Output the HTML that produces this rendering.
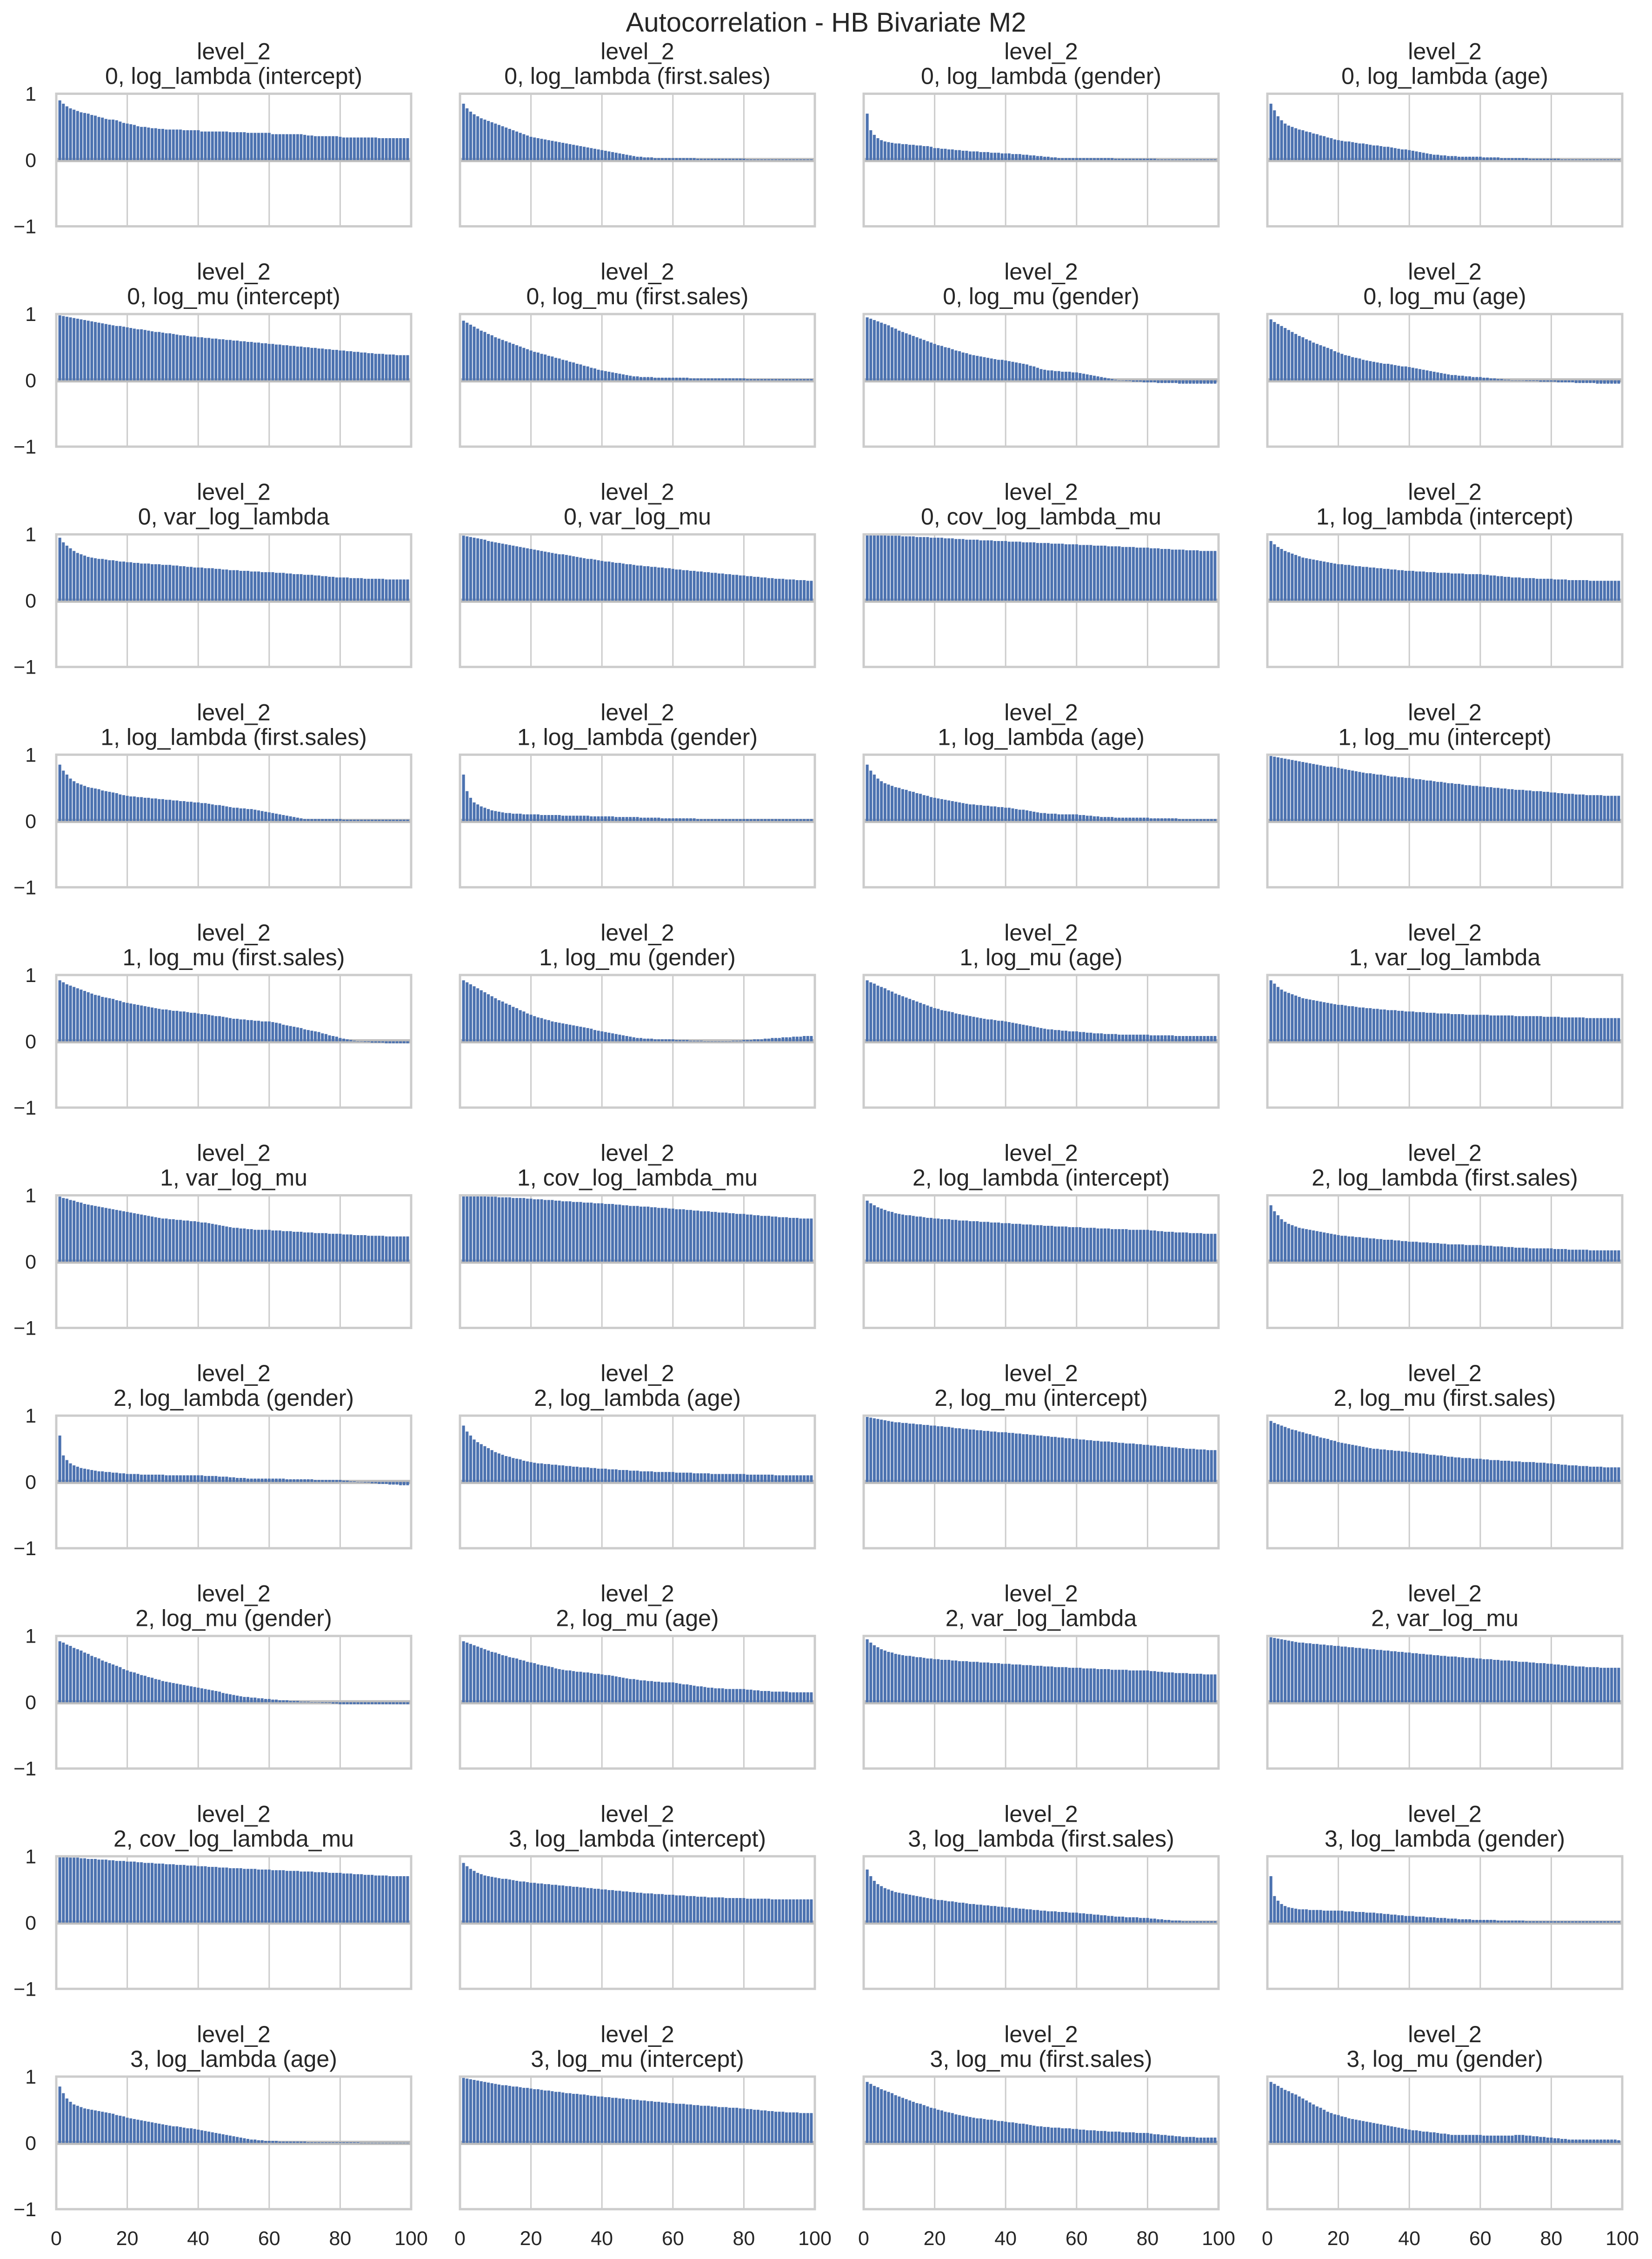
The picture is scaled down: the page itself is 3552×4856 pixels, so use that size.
<!DOCTYPE html>
<html><head><meta charset="utf-8"><title>Autocorrelation - HB Bivariate M2</title>
<style>html,body{margin:0;padding:0;background:#fff}svg{display:block}text{font-family:"Liberation Sans",Arial,sans-serif;fill:#262626}</style>
</head><body>
<svg id="fig" width="3552" height="4856" viewBox="0 0 3552 4856" xmlns="http://www.w3.org/2000/svg">
<rect width="3552" height="4856" fill="#fff"/>
<text x="1776" y="68" font-size="58" text-anchor="middle">Autocorrelation - HB Bivariate M2</text>
</svg>
<script>
const titles = ["0, log_lambda (intercept)","0, log_lambda (first.sales)","0, log_lambda (gender)","0, log_lambda (age)","0, log_mu (intercept)","0, log_mu (first.sales)","0, log_mu (gender)","0, log_mu (age)","0, var_log_lambda","0, var_log_mu","0, cov_log_lambda_mu","1, log_lambda (intercept)","1, log_lambda (first.sales)","1, log_lambda (gender)","1, log_lambda (age)","1, log_mu (intercept)","1, log_mu (first.sales)","1, log_mu (gender)","1, log_mu (age)","1, var_log_lambda","1, var_log_mu","1, cov_log_lambda_mu","2, log_lambda (intercept)","2, log_lambda (first.sales)","2, log_lambda (gender)","2, log_lambda (age)","2, log_mu (intercept)","2, log_mu (first.sales)","2, log_mu (gender)","2, log_mu (age)","2, var_log_lambda","2, var_log_mu","2, cov_log_lambda_mu","3, log_lambda (intercept)","3, log_lambda (first.sales)","3, log_lambda (gender)","3, log_lambda (age)","3, log_mu (intercept)","3, log_mu (first.sales)","3, log_mu (gender)"];
const xTicks = [0,20,40,60,80,100];
const yTicks = [1,0,-1];
const yTickLabels = ["1","0","\u22121"];
// autocorrelation (percent) for lags 1..99
const s01=[90,85,81,78,76,74,72,71,70,68,67,65,64,62,61,61,60,58,56,55,54,53,51,50,50,49,48,48,47,47,46,46,46,46,46,45,45,45,45,45,43,43,43,43,43,43,43,43,42,42,42,42,42,41,41,41,41,41,41,41,39,39,39,39,39,39,39,39,39,38,37,37,36,36,36,36,36,36,36,35,34,34,34,34,34,34,34,34,34,34,33,33,33,33,33,33,33,33,33];
const s02=[85,78,73,69,66,63,61,59,57,55,53,51,49,47,45,43,41,39,37,35,34,33,32,31,30,29,28,27,26,25,24,23,22,21,20,19,18,17,16,15,14,13,12,11,10,9,8,7,6,5,5,4,4,4,3,3,3,3,3,3,3,3,3,3,3,3,2,2,2,2,2,2,2,2,2,2,2,2,2,2,1,1,1,1,1,1,1,1,1,1,1,1,1,1,1,1,1,1,1];
const s03=[70,45,38,33,30,28,27,26,25,25,24,24,23,23,22,22,21,21,20,18,18,17,17,16,16,15,15,14,14,13,13,13,12,12,12,11,11,11,10,10,10,9,9,9,8,8,7,7,6,6,5,5,4,4,3,3,3,3,3,3,3,3,3,3,3,3,3,3,3,3,2,2,2,2,2,2,2,2,2,2,2,2,1,1,1,1,1,1,1,1,1,1,1,1,1,1,1,1,1];
const s04=[85,75,66,60,55,52,50,48,46,45,43,42,40,39,37,36,34,33,31,30,29,28,28,27,26,25,25,24,23,22,22,21,20,20,19,18,17,16,16,15,14,13,12,11,10,9,8,8,7,7,6,6,6,5,5,5,5,5,5,5,4,4,4,4,4,3,3,3,3,3,3,3,3,2,2,2,2,2,2,2,2,2,1,1,1,1,1,1,1,1,1,1,1,1,1,1,1,1,1];
const s05=[98,97,96,95,94,93,92,91,90,89,88,87,86,85,84,83,82,82,81,80,79,78,77,77,76,75,74,73,73,72,71,71,70,69,68,68,67,66,66,65,65,64,64,63,63,62,62,61,61,60,60,59,59,58,58,57,57,56,56,55,55,54,54,53,53,52,52,51,51,50,50,49,49,48,48,47,47,46,46,45,45,44,44,43,43,42,42,41,41,40,40,40,39,39,39,38,38,38,38];
const s06=[90,87,84,81,78,75,73,70,68,65,63,61,59,57,55,53,51,49,47,45,43,42,40,39,37,36,34,33,31,30,28,27,25,24,22,21,19,18,16,15,14,13,12,11,10,9,8,7,6,6,5,5,5,5,4,4,4,4,4,4,4,4,4,4,3,3,3,3,3,3,3,3,3,3,3,3,3,3,3,3,2,2,2,2,2,2,2,2,2,2,2,2,2,2,2,2,2,2,2];
const s07=[95,93,91,89,87,85,83,80,78,75,73,71,69,67,65,63,61,59,57,55,53,52,50,49,47,45,44,42,41,39,38,37,36,35,34,33,32,31,31,30,29,28,27,26,25,24,22,21,19,17,16,15,15,14,14,13,13,13,12,12,11,10,9,8,7,6,5,4,3,2,1,0,0,-1,-1,-2,-2,-2,-3,-3,-3,-3,-4,-4,-4,-4,-4,-4,-5,-5,-5,-5,-5,-5,-5,-5,-5,-5,-5];
const s08=[92,88,85,82,79,76,73,70,67,65,62,60,57,55,53,51,49,47,44,42,40,38,37,35,34,33,31,30,29,28,27,26,25,25,24,23,22,21,21,20,19,18,17,16,15,14,13,12,11,10,9,8,8,7,7,6,6,5,5,5,4,4,3,3,2,2,1,1,0,0,0,0,-1,-1,-1,-1,-2,-2,-2,-2,-2,-3,-3,-3,-3,-3,-4,-4,-4,-4,-4,-4,-5,-5,-5,-5,-5,-5,-5];
const s09=[95,88,83,79,75,72,70,68,66,65,64,63,63,62,61,61,60,59,59,58,58,57,57,56,56,56,55,55,55,54,54,54,53,53,52,52,51,51,50,50,50,49,49,49,48,48,47,47,46,46,46,45,45,45,44,44,44,43,43,43,43,42,42,42,41,41,40,40,40,39,39,39,38,38,37,37,36,36,35,35,35,35,34,34,34,34,33,33,33,33,33,33,32,32,32,32,32,32,32];
const s10=[98,97,96,95,94,93,92,90,89,88,87,86,85,84,83,82,81,80,79,78,77,76,75,74,73,72,71,70,70,69,68,67,66,65,64,63,63,62,61,60,59,59,58,57,57,56,55,55,54,53,53,52,52,51,51,50,50,49,49,48,47,47,46,46,45,45,44,44,43,43,42,42,41,41,40,40,39,39,38,38,37,37,36,36,35,35,34,34,33,33,33,32,32,32,31,31,31,30,30];
const s11=[100,100,99,99,99,99,98,98,98,98,97,97,97,97,96,96,96,96,95,95,95,95,94,94,94,93,93,93,92,92,92,92,91,91,91,91,90,90,90,90,89,89,89,89,88,88,88,88,87,87,87,87,86,86,86,86,85,85,85,85,84,84,84,84,83,83,83,83,82,82,82,82,81,81,81,81,80,80,80,80,79,79,79,78,78,78,77,77,77,77,76,76,76,76,75,75,75,75,75];
const s12=[90,85,81,78,75,73,71,69,67,65,64,63,62,61,60,59,58,57,56,55,55,54,54,53,52,52,51,51,50,50,49,49,48,48,47,47,46,46,45,45,45,44,44,44,43,43,43,42,42,42,42,41,41,41,41,40,40,40,40,40,39,39,38,38,37,37,36,36,35,35,35,34,34,34,34,33,33,33,33,33,32,32,32,32,31,31,31,31,31,31,30,30,30,30,30,30,30,30,30];
const s13=[85,76,70,64,60,57,55,53,51,50,49,48,46,45,44,43,42,40,39,38,37,37,36,36,35,35,34,34,33,33,32,32,31,31,30,30,29,29,28,28,27,27,26,25,24,24,23,22,21,20,20,19,19,18,18,17,16,15,14,13,12,11,10,9,8,7,6,5,4,3,3,3,3,3,3,3,3,3,3,3,2,2,2,2,2,2,2,2,2,2,2,2,2,2,2,2,2,2,2];
const s14=[70,45,35,28,25,22,20,18,16,15,14,13,12,12,11,11,11,10,10,10,10,10,9,9,9,9,9,9,8,8,8,8,8,8,8,8,7,7,7,7,7,7,7,6,6,6,6,6,6,6,5,5,5,5,5,5,4,4,4,4,4,4,4,4,4,4,3,3,3,3,3,3,3,3,3,3,3,3,3,3,3,3,3,3,3,3,3,3,3,3,3,3,3,3,3,3,3,3,3];
const s15=[85,76,70,64,60,57,55,53,51,50,48,47,45,44,42,41,39,38,36,35,34,33,32,31,30,29,28,27,26,25,25,24,24,23,23,22,22,21,21,20,20,19,18,17,17,16,15,14,13,12,12,11,11,11,10,10,10,10,10,10,9,9,8,8,7,7,6,6,6,6,5,5,5,5,5,5,5,5,5,5,4,4,4,4,4,4,4,4,3,3,3,3,3,3,3,3,3,3,3];
const s16=[98,97,96,95,94,93,92,91,90,89,88,87,86,85,84,83,82,82,81,80,79,78,77,76,75,74,73,72,72,71,70,70,69,68,67,67,66,66,65,65,64,63,63,62,61,61,60,59,59,58,57,57,56,56,55,54,54,53,53,52,52,51,51,50,50,49,49,48,48,47,47,47,46,46,45,45,45,44,44,43,43,42,42,41,41,41,40,40,40,39,39,39,39,39,38,38,38,38,38];
const s17=[92,89,86,84,82,80,78,76,74,72,70,69,67,66,65,64,62,61,59,58,57,56,55,54,53,52,51,50,49,48,48,47,46,46,45,45,44,43,43,42,41,41,40,39,38,38,37,36,35,34,34,33,33,32,32,31,31,30,30,30,29,28,27,25,24,23,22,21,20,18,17,16,15,14,12,11,9,8,7,5,4,3,2,1,0,0,-1,-1,-2,-2,-2,-2,-3,-3,-3,-3,-3,-3,-3];
const s18=[92,89,86,83,80,77,74,71,68,65,62,60,57,55,52,50,47,45,42,40,38,36,35,33,32,30,29,28,27,26,25,24,23,22,21,20,19,17,16,15,14,13,12,11,10,9,8,7,6,5,5,4,4,4,3,3,3,3,3,3,2,2,2,2,1,1,1,1,0,0,0,0,0,0,0,0,1,1,1,2,2,2,3,3,3,4,4,5,5,5,6,6,6,7,7,7,8,8,8];
const s19=[92,89,87,84,82,80,77,75,72,70,68,66,64,62,60,58,56,54,52,50,49,47,46,45,44,42,41,40,39,38,37,36,35,34,33,33,32,31,31,30,29,28,27,26,25,24,23,22,21,20,19,18,18,17,17,16,16,15,15,15,14,14,13,13,12,12,12,11,11,11,11,10,10,10,10,10,10,10,10,10,9,9,9,9,9,9,9,8,8,8,8,8,8,8,8,8,8,8,8];
const s20=[92,87,82,78,75,73,71,69,67,65,64,63,62,61,60,59,58,57,56,55,55,54,53,53,52,51,51,50,50,49,49,48,48,47,47,47,46,46,45,45,45,44,44,44,43,43,43,42,42,42,42,41,41,41,41,40,40,40,40,40,40,40,39,39,39,39,39,39,39,38,38,38,38,38,38,38,38,37,37,37,37,37,36,36,36,36,36,36,36,35,35,35,35,35,35,35,35,35,35];
const s21=[98,96,95,93,92,90,89,87,86,85,84,83,82,81,80,79,78,77,76,75,74,73,72,71,70,69,68,67,66,65,65,64,64,63,63,62,62,61,61,60,59,59,58,57,56,55,54,53,52,51,51,50,50,49,49,48,48,48,48,48,47,47,47,46,46,46,45,45,45,44,44,44,43,43,43,43,42,42,42,42,41,41,41,40,40,40,40,39,39,39,39,39,38,38,38,38,38,38,38];
const s22=[100,100,100,99,99,99,99,98,98,98,97,97,97,97,96,96,96,96,95,95,94,94,94,93,93,93,92,92,91,91,91,90,90,90,89,89,89,88,88,88,87,87,87,86,86,85,85,84,84,84,83,83,83,82,82,81,81,81,80,80,79,79,79,78,78,77,77,76,76,76,75,75,74,74,74,73,73,72,72,72,71,71,70,70,69,69,69,68,68,67,67,67,66,66,66,65,65,65,65];
const s23=[92,88,85,82,80,78,76,75,73,72,71,70,70,69,68,68,67,66,66,65,65,64,64,64,63,63,62,62,62,61,61,61,60,60,60,59,59,59,58,58,58,57,57,57,56,56,56,55,55,55,54,54,54,53,53,53,53,52,52,52,52,51,51,51,51,50,50,50,50,49,49,49,49,49,48,48,48,48,48,48,47,47,46,46,45,45,45,44,44,44,44,43,43,43,43,42,42,42,42];
const s24=[85,76,70,64,60,57,55,53,51,50,49,48,47,46,45,44,43,42,41,40,39,39,38,38,37,37,36,36,35,35,34,34,33,33,33,32,32,31,31,30,30,30,29,29,29,28,28,28,27,27,26,26,26,26,26,25,25,25,25,25,24,24,24,23,23,23,22,22,22,21,21,21,21,20,20,20,20,20,20,20,19,19,19,19,18,18,18,18,18,18,17,17,17,17,17,17,17,17,17];
const s25=[70,40,33,28,25,23,21,20,19,18,17,16,16,15,15,14,14,13,13,12,12,12,12,11,11,11,11,11,11,11,10,10,10,10,10,10,10,10,10,10,10,9,9,9,9,8,8,8,7,7,6,6,6,5,5,5,5,5,5,5,5,5,5,5,4,4,4,4,4,4,4,4,3,3,3,3,3,3,3,3,2,2,1,1,0,0,-1,-1,-2,-2,-3,-3,-3,-4,-4,-4,-5,-5,-5];
const s26=[85,76,70,64,60,57,54,51,48,45,43,41,39,38,36,35,34,32,31,30,29,28,28,27,27,26,26,25,25,24,24,23,23,22,22,22,21,21,20,20,20,19,19,19,18,18,18,17,17,17,16,16,16,16,15,15,15,15,15,15,14,14,14,14,14,13,13,13,13,13,12,12,12,12,12,12,12,12,12,12,11,11,11,11,11,11,11,11,10,10,10,10,10,10,10,10,10,10,10];
const s27=[98,97,96,95,94,93,92,91,90,90,89,89,88,88,87,87,86,86,85,85,84,84,83,83,82,81,81,80,80,79,79,78,78,77,77,76,76,75,75,75,74,74,73,73,72,72,71,71,70,70,69,69,68,68,67,67,66,66,65,65,64,64,63,63,62,62,61,61,61,60,60,59,59,58,58,58,57,57,56,56,55,55,54,54,53,53,52,52,51,51,50,50,50,49,49,49,48,48,48];
const s28=[92,89,87,85,83,81,79,78,76,75,73,72,70,69,67,66,65,63,62,60,59,58,57,56,55,54,53,52,51,50,50,49,49,48,48,47,47,46,46,45,44,44,43,43,42,41,41,40,40,39,38,38,37,37,36,36,36,35,35,35,34,34,33,33,33,32,32,32,31,31,31,30,30,30,30,29,29,29,28,28,27,27,26,26,25,25,25,24,24,24,23,23,23,23,22,22,22,22,22];
const s29=[92,90,87,85,82,80,78,75,73,70,68,66,63,61,59,57,55,53,50,48,46,45,43,41,40,38,37,35,34,32,31,30,29,28,27,26,25,24,23,22,21,20,19,18,17,16,14,13,12,11,10,9,8,8,7,7,6,6,5,5,4,4,3,3,3,2,2,2,1,1,1,0,0,0,-1,-1,-1,-2,-2,-3,-3,-3,-3,-3,-3,-3,-3,-3,-3,-3,-3,-3,-3,-3,-3,-3,-3,-3,-3];
const s30=[92,90,88,86,84,82,80,78,76,75,73,71,70,68,67,66,64,63,61,60,59,57,56,55,54,53,51,50,49,48,48,47,46,46,45,45,44,43,43,42,41,41,40,39,38,37,36,35,35,34,33,33,32,32,31,31,30,30,30,30,29,28,27,27,26,25,24,24,23,22,22,21,21,21,20,20,20,20,20,20,19,19,18,18,17,17,17,16,16,16,16,16,15,15,15,15,15,15,15];
const s31=[95,90,86,83,80,78,76,75,73,72,71,70,70,69,68,68,67,66,66,65,65,64,64,64,63,63,62,62,62,61,61,61,60,60,60,59,59,59,58,58,58,57,57,57,56,56,56,55,55,55,54,54,54,53,53,53,53,52,52,52,52,51,51,51,51,50,50,50,50,49,49,49,49,49,48,48,48,48,48,48,47,47,46,46,45,45,45,44,44,44,44,43,43,43,43,42,42,42,42];
const s32=[98,97,96,95,94,93,92,91,90,90,89,89,88,88,87,87,86,86,85,85,84,84,83,83,82,82,81,81,80,80,79,79,78,78,77,77,76,76,75,75,74,74,73,73,72,72,71,71,70,70,69,69,69,68,68,67,67,67,66,66,65,65,65,64,64,63,63,63,62,62,61,61,61,60,60,59,59,59,58,58,57,57,56,56,55,55,54,54,54,53,53,53,53,52,52,52,52,52,52];
const s33=[100,99,99,98,98,98,97,97,96,96,96,95,95,95,94,94,93,93,93,92,92,92,91,91,90,90,90,89,89,89,88,88,88,87,87,87,86,86,86,85,85,85,84,84,84,83,83,83,82,82,82,82,81,81,81,81,80,80,80,80,79,79,79,79,78,78,78,78,77,77,77,77,76,76,76,76,75,75,75,75,74,74,74,73,73,73,72,72,72,71,71,71,71,70,70,70,70,70,70];
const s34=[90,85,81,78,75,73,71,70,69,68,67,66,66,65,64,63,62,62,61,60,60,59,59,58,58,57,57,56,56,55,55,54,54,53,53,52,52,51,51,50,50,49,49,48,48,47,47,46,46,45,45,44,44,44,43,43,43,42,42,42,41,41,41,40,40,40,39,39,39,38,38,38,38,38,37,37,37,37,37,37,36,36,36,36,36,36,36,35,35,35,35,35,35,35,35,35,35,35,35];
const s35=[80,70,63,58,55,52,50,48,46,45,44,43,42,41,40,39,38,37,36,35,34,34,33,32,32,31,30,30,29,28,28,27,27,26,26,25,25,24,24,23,23,22,22,21,21,20,20,19,19,18,18,17,17,17,16,16,16,15,15,15,14,14,13,13,12,12,11,11,10,10,9,9,9,8,8,8,8,7,7,7,6,6,5,5,4,4,3,3,3,2,2,2,2,2,2,2,2,2,2];
const s36=[70,40,33,28,25,23,22,21,20,20,20,19,19,19,19,18,18,18,18,18,18,17,17,17,16,16,16,15,15,15,14,14,13,13,12,12,11,11,10,10,10,9,9,9,8,8,8,7,7,7,6,6,6,5,5,5,5,4,4,4,4,4,4,4,3,3,3,3,3,3,3,3,2,2,2,2,2,2,2,2,2,2,2,2,2,2,2,2,2,2,2,2,2,2,2,2,2,2,2];
const s37=[85,75,67,62,58,56,54,52,51,50,49,48,47,46,45,44,42,41,40,38,37,36,35,34,33,32,31,30,29,28,27,26,25,25,24,23,22,22,21,20,19,18,17,16,15,14,13,12,11,10,9,8,7,6,5,5,4,4,3,3,3,3,2,2,2,2,2,2,2,2,1,1,1,1,1,1,1,1,1,1,1,1,1,1,1,0,0,0,0,0,0,0,0,0,0,0,0,0,0];
const s38=[98,97,96,95,94,93,92,91,90,89,88,87,87,86,85,85,84,83,83,82,81,81,80,79,79,78,77,77,76,75,75,74,74,73,73,72,71,71,70,70,69,69,68,68,67,67,66,66,65,65,64,64,63,63,62,62,61,61,60,60,59,59,59,58,58,57,57,56,56,56,55,55,54,54,54,53,53,53,52,52,51,51,50,50,49,49,48,48,47,47,47,46,46,46,46,45,45,45,45];
const s39=[92,89,86,84,81,79,77,75,72,70,68,66,64,62,60,59,57,55,53,52,50,49,47,46,45,43,42,41,40,39,38,37,37,36,35,35,34,33,33,32,31,31,30,29,29,28,27,26,25,25,24,24,23,23,23,22,22,22,21,21,20,20,19,19,19,18,18,18,17,17,17,17,16,16,16,16,15,15,15,15,14,13,13,12,12,11,11,10,10,9,9,9,9,8,8,8,8,8,8];
const s40=[92,89,86,83,80,78,75,73,70,67,64,61,58,55,53,50,47,45,43,42,40,39,37,36,35,34,33,32,31,30,29,28,27,26,25,24,23,22,21,20,19,19,18,17,17,16,16,15,14,14,13,12,12,12,12,12,12,12,12,12,11,11,11,11,11,11,11,11,11,12,12,12,11,11,10,10,9,9,8,8,7,7,6,6,5,5,5,5,5,5,5,5,5,5,5,5,5,5,4];
const seriesList = [s01,s02,s03,s04,s05,s06,s07,s08,s09,s10,s11,s12,s13,s14,s15,s16,s17,s18,s19,s20,s21,s22,s23,s24,s25,s26,s27,s28,s29,s30,s31,s32,s33,s34,s35,s36,s37,s38,s39,s40];

const NS = "http://www.w3.org/2000/svg";
const svg = document.getElementById('fig');
const colLeft = [121, 989, 1857, 2725], PW = 763, PH = 285, TOP0 = 201.5, ROWSTEP = 473.6;
function mk(tag, attrs, parent){ const e = document.createElementNS(NS, tag); for (const k in attrs) e.setAttribute(k, attrs[k]); parent.appendChild(e); return e; }

seriesList.forEach((vals, i) => {
  const r = Math.floor(i / 4), c = i % 4;
  const L = colLeft[c], T = TOP0 + r * ROWSTEP;
  const xs = v => L + v / 100 * PW;
  const ys = v => T + (1 - v) / 2 * PH;
  const g = mk('g', {}, svg);
  
  
  const clipId = 'clip' + i;
  const cp = mk('clipPath', {id: clipId}, g);
  mk('rect', {x: L, y: T, width: PW, height: PH}, cp);
  // gridlines
  xTicks.forEach(t => {
    if (t === 0 || t === 100) return;
    const gl = mk('line', {x1: xs(t), x2: xs(t), y1: T, y2: T + PH, stroke: '#cccccc', 'stroke-width': 3}, g);
    
    
  });
  const zl = mk('line', {x1: L, x2: L + PW, y1: ys(0), y2: ys(0), stroke: '#bdbdbd', 'stroke-width': 9}, g);
  
  
  const bars = mk('g', {'clip-path': 'url(#' + clipId + ')'}, g);
  vals.forEach((v, k) => {
    const lag = k + 1, val = v / 100;
    const bw = 0.8 / 100 * PW;
    const y0 = ys(0), y1 = ys(val);
    const b = mk('rect', {x: xs(lag) - bw / 2, y: Math.min(y0, y1), width: bw, height: Math.max(Math.abs(y1 - y0), 0.8), fill: '#4c72b0'}, bars);
    
    
  });
  const fr = mk('rect', {x: L, y: T, width: PW, height: PH, fill: 'none', stroke: '#cccccc', 'stroke-width': 5}, g);
  
  
  const cx = L + PW / 2;
  const t1 = mk('text', {x: cx, y: T - 74, 'font-size': 50, 'text-anchor': 'middle'}, g);
  t1.textContent = 'level_2';
  
  
  const t2 = mk('text', {x: cx, y: T - 21, 'font-size': 50, 'text-anchor': 'middle'}, g);
  t2.textContent = titles[i];
  
  
  if (c === 0) {
    yTicks.forEach((t, j) => {
      const yl = mk('text', {x: L - 43, y: ys(t) + 15, 'font-size': 43, 'text-anchor': 'end'}, g);
      yl.textContent = yTickLabels[j];
      
      
    });
  }
  if (r === 9) {
    xTicks.forEach(t => {
      const xl = mk('text', {x: xs(t), y: T + PH + 77, 'font-size': 43, 'text-anchor': 'middle'}, g);
      xl.textContent = String(t);
      
      
    });
  }
});
</script>
</body></html>
